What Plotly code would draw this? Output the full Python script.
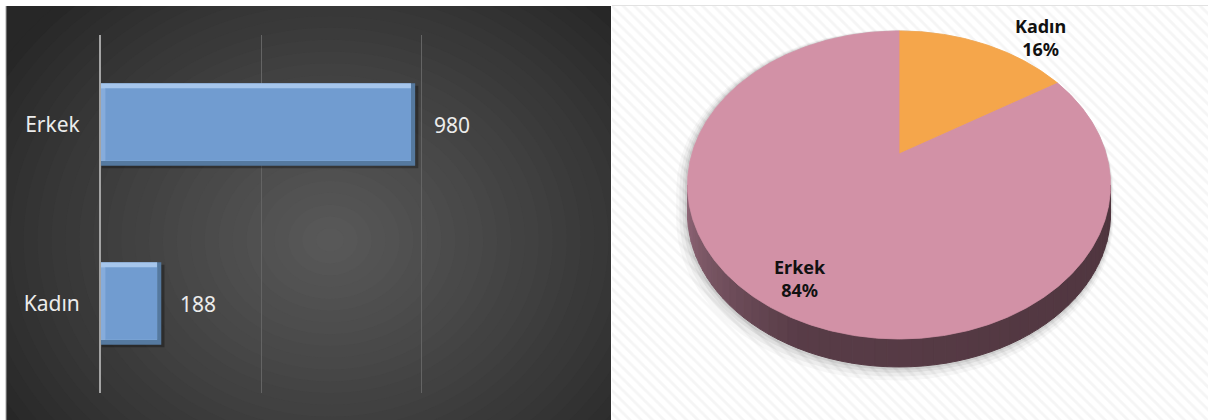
import numpy as np
import plotly.graph_objects as go

# ---------------- data ----------------
categories = ["Erkek", "Kadın"]
counts = [980, 188]
x_ticks = [0, 500, 1000, 1500]
pie_colors = {"Erkek": "#d291a6", "Kadın": "#f5a64b"}

W, H = 1208, 420
FONT = "Noto Sans"


def px(x):
    return x / W


def py(y):
    return 1 - y / H


def lerp_color(c1, c2, t):
    a = [int(c1[i:i + 2], 16) for i in (1, 3, 5)]
    b = [int(c2[i:i + 2], 16) for i in (1, 3, 5)]
    return "rgb(%d,%d,%d)" % tuple(round(a[i] + (b[i] - a[i]) * t) for i in range(3))


fig = go.Figure()

# ---------------- left panel: bevelled horizontal bars ----------------
BW = 0.46          # bar thickness (category units)
BV = 0.028         # bevel thickness (category units)
IX = 13            # bevel thickness (value units)

def bar_layer(x, base, width, offset, color):
    fig.add_trace(go.Bar(
        y=categories, x=x, base=base, orientation="h", width=width, offset=offset,
        marker=dict(color=color, line=dict(width=0)),
        xaxis="x", yaxis="y", hoverinfo="skip", showlegend=False,
    ))

# drop shadow
bar_layer([v + 7 for v in counts], [3] * len(counts), BW, -BW / 2 - 0.014, "rgba(0,0,0,0.3)")
# dark outer edge (bottom / right)
bar_layer(counts, [0] * len(counts), BW, -BW / 2, "#55799f")
# light top / left bevel
bar_layer([v - IX for v in counts], [0] * len(counts), BW - BV, -BW / 2 + BV, "#a6c6ec")
# left bevel (mid tone)
bar_layer([IX] * len(counts), [0] * len(counts), BW - 2 * BV, -BW / 2 + BV, "#86acdb")
# face
bar_layer([v - 2 * IX for v in counts], [IX] * len(counts), BW - 2 * BV, -BW / 2 + BV, "#719cd0")

annotations = []
for c, v in zip(categories, counts):
    annotations.append(dict(
        x=v, y=c, xref="x", yref="y", text=str(v), showarrow=False,
        xanchor="left", xshift=17, font=dict(family=FONT, size=21, color="#ececec"),
    ))

# ---------------- right panel: 3D-looking pie ----------------
fig.add_trace(go.Scatter(
    x=[612, W, W, 612, 612], y=[6, 6, H, H, 6], mode="lines", fill="toself",
    fillcolor="white", line=dict(width=0),
    fillpattern=dict(shape="\\", fgcolor="#ebebeb", bgcolor="white", size=8, solidity=0.35),
    xaxis="x2", yaxis="y2", hoverinfo="skip", showlegend=False,
))

CX, CY, K, M, P = 899.0, 154.0, 207.2, 147.8, 0.201
DEPTH = 28.0


def proj(theta_deg, r=1.0, dz=0.0):
    t = np.radians(theta_deg)
    u = r * np.sin(t)
    v = r * np.cos(t)
    d = 1 + P * v
    return CX + K * u / d, CY - M * v / d + dz


th_edge = np.degrees(np.arccos(-P))
th_r, th_l = th_edge, 360 - th_edge

# soft shadow
for off, alpha in [(7, 0.03), (5, 0.045), (3, 0.06), (1.5, 0.07)]:
    ts_top = np.linspace(th_l - 360, th_r, 200)
    ts_bot = np.linspace(th_r, th_l, 200)
    xs_t, ys_t = proj(ts_top)
    xs_b, ys_b = proj(ts_bot, dz=DEPTH)
    xs = np.concatenate([xs_t, xs_b])
    ys = np.concatenate([ys_t, ys_b])
    xs = CX + (xs - CX) * (1 + off / 210.0) - off * 0.6
    ys = 185 + (ys - 185) * (1 + off / 160.0) + off * 0.8
    fig.add_trace(go.Scatter(
        x=list(xs) + [xs[0]], y=list(ys) + [ys[0]], mode="lines", fill="toself",
        fillcolor="rgba(0,0,0,%.3f)" % alpha, line=dict(width=0),
        xaxis="x2", yaxis="y2", hoverinfo="skip", showlegend=False,
    ))

# side band with shading
NSEG = 60
edges = np.linspace(th_l, th_r, NSEG + 1)
for i in range(NSEG):
    a, b = edges[i], edges[i + 1]
    ts = np.linspace(a, b, 6)
    xt, yt = proj(ts)
    xb, yb = proj(ts[::-1], dz=DEPTH)
    f = i / (NSEG - 1)
    if f < 0.35:
        col = lerp_color("#916878", "#583c47", f / 0.35)
    else:
        col = lerp_color("#583c47", "#4f353e", (f - 0.35) / 0.65)
    xs = list(xt) + list(xb) + [xt[0]]
    ys = list(yt) + list(yb) + [yt[0]]
    fig.add_trace(go.Scatter(
        x=xs, y=ys, mode="lines", fill="toself", fillcolor=col,
        line=dict(width=1, color=col),
        xaxis="x2", yaxis="y2", hoverinfo="skip", showlegend=False,
    ))

# top face wedges (12 o'clock, clockwise: Kadın first)
total = float(sum(counts))
order = ["Kadın", "Erkek"]
start = 0.0
for name in order:
    val = counts[categories.index(name)]
    span = 360.0 * val / total
    ts = np.linspace(start, start + span, max(int(span), 4) * 2)
    xe, ye = proj(ts)
    xs = [CX] + list(xe) + [CX]
    ys = [CY] + list(ye) + [CY]
    fig.add_trace(go.Scatter(
        x=xs, y=ys, mode="lines", fill="toself", fillcolor=pie_colors[name],
        line=dict(width=0.8, color=pie_colors[name]),
        xaxis="x2", yaxis="y2", hoverinfo="skip", showlegend=False,
    ))
    start += span

label_pos = {"Kadın": (1040, 38), "Erkek": (800, 278)}
for name in categories:
    val = counts[categories.index(name)]
    pct = round(100 * val / total)
    lx, ly = label_pos[name]
    annotations.append(dict(
        x=lx, y=ly, xref="x2", yref="y2", showarrow=False,
        text="<b>%s</b><br><b>%d%%</b>" % (name, pct),
        font=dict(family=FONT, size=18, color="#111111"), align="center",
    ))

# ---------------- left panel background (radial gradient) ----------------
shapes = [dict(type="rect", xref="paper", yref="paper", x0=px(6), x1=px(611),
               y0=0, y1=py(6), fillcolor="#272727", line=dict(width=0), layer="below")]
GX, GY = 330, 240
N = 28
for i in range(N):
    s = 1 - i / N
    rx, ry = 390 * s, 330 * s
    col = lerp_color("#272727", "#5a5a5a", (1 - s) ** 0.9)
    shapes.append(dict(type="circle", xref="paper", yref="paper",
                       x0=px(GX - rx), x1=px(GX + rx), y0=py(GY + ry), y1=py(GY - ry),
                       fillcolor=col, line=dict(width=0), layer="below"))
shapes += [
    dict(type="rect", xref="paper", yref="paper", x0=0, x1=px(6), y0=0, y1=1,
         fillcolor="white", line=dict(width=0), layer="below"),
    dict(type="rect", xref="paper", yref="paper", x0=0, x1=px(620), y0=py(6), y1=1,
         fillcolor="white", line=dict(width=0), layer="below"),
    dict(type="rect", xref="paper", yref="paper", x0=px(611), x1=px(760), y0=0, y1=1,
         fillcolor="white", line=dict(width=0), layer="below"),
    dict(type="line", xref="paper", yref="paper", x0=px(6), x1=px(6), y0=0, y1=py(6),
         line=dict(color="#a8a8a8", width=1), layer="below"),
    dict(type="line", xref="paper", yref="paper", x0=px(612), x1=1, y0=py(5.5), y1=py(5.5),
         line=dict(color="#e2e2e2", width=1), layer="below"),
]

fig.update_layout(
    width=W, height=H, autosize=False,
    margin=dict(l=0, r=0, t=0, b=0),
    paper_bgcolor="white", plot_bgcolor="rgba(0,0,0,0)",
    showlegend=False, barmode="overlay",
    xaxis=dict(domain=[px(101), px(582)], range=[0, 1500.5], tickvals=x_ticks,
               showticklabels=False, showgrid=True, gridcolor="#646464", gridwidth=1,
               zeroline=False, showline=False, fixedrange=True),
    yaxis=dict(domain=[py(393), py(35)], range=[-0.5, 1.5], type="category",
               categoryorder="array", categoryarray=["Kadın", "Erkek"],
               showgrid=False, zeroline=False, showline=True, linecolor="#a4a4a4",
               linewidth=2, ticks="outside", ticklen=15, tickcolor="rgba(0,0,0,0)",
               tickfont=dict(family=FONT, size=21, color="#ececec"), fixedrange=True),
    xaxis2=dict(domain=[px(612), 1], range=[612, W], visible=False, fixedrange=True),
    yaxis2=dict(domain=[0, py(6)], range=[H, 6], visible=False, fixedrange=True),
    shapes=shapes,
    annotations=annotations,
)

fig.write_html(
    "out.html",
    config={"displayModeBar": False},
    post_script="document.body.style.margin='0';document.body.style.overflow='hidden';",
)
